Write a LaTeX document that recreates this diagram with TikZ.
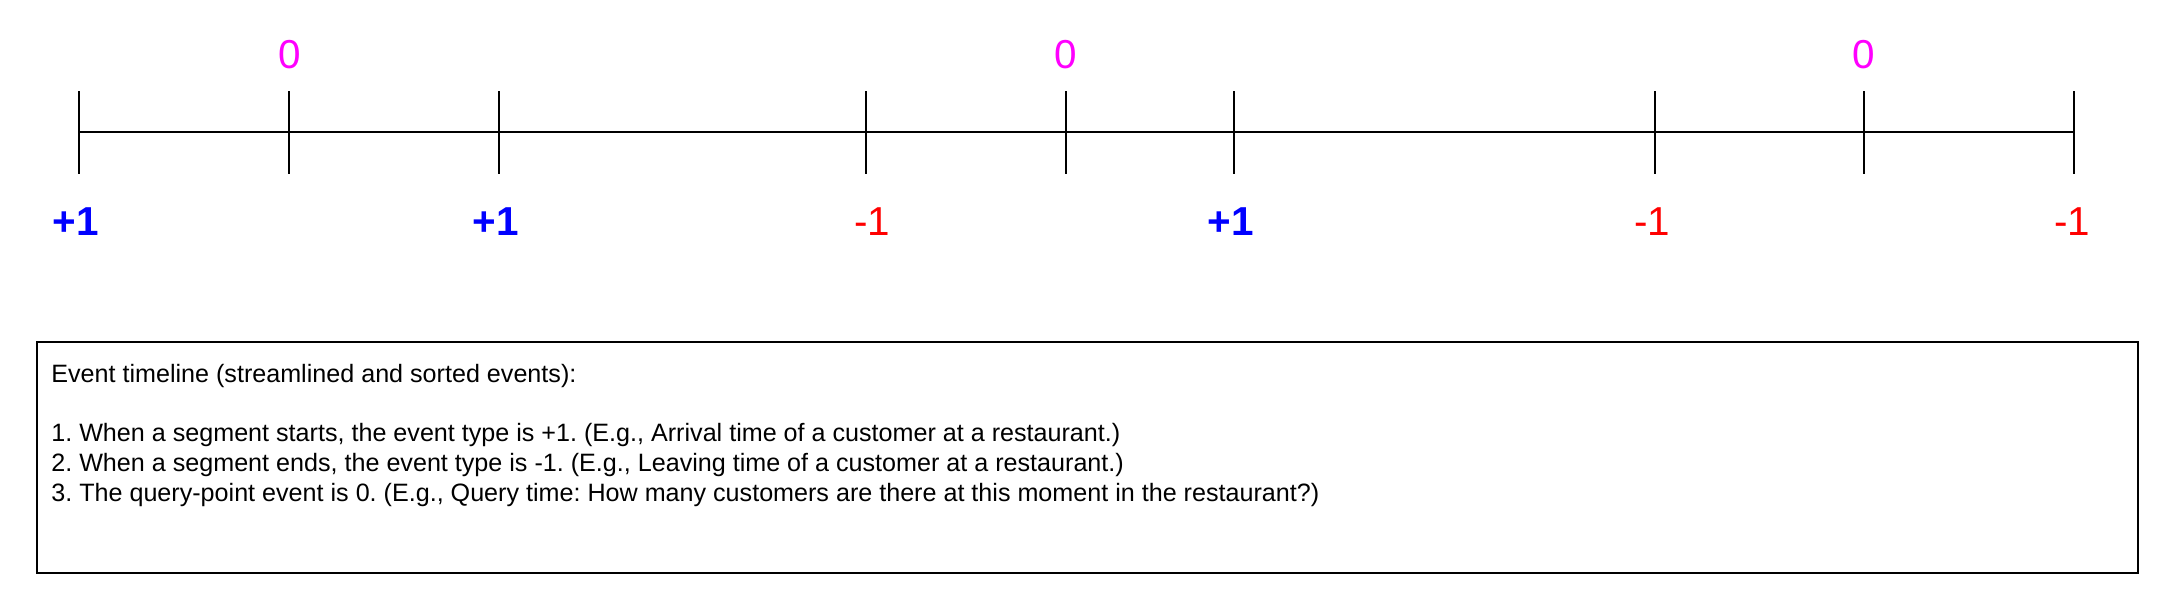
\documentclass[tikz,border=0pt]{standalone}
\usepackage{fontspec}
\setmainfont{Liberation Sans}
\usetikzlibrary{positioning}

\definecolor{startblue}{RGB}{0,0,255}
\definecolor{endred}{RGB}{255,0,0}
\definecolor{querypink}{RGB}{255,0,255}

\tikzset{
	axisline/.style={draw, line width=1.1pt},
	tickmark/.style={draw, line width=1pt},
	startlabel/.style={text=startblue, font=\fontsize{23}{23}\selectfont\bfseries},
	endlabel/.style={text=endred, font=\fontsize{23}{23}\selectfont},
	querylabel/.style={text=querypink, font=\fontsize{23}{23}\selectfont},
	notebox/.style={draw, line width=1.1pt, minimum width=42.02cm, minimum height=4.62cm, inner sep=0pt},
	notetext/.style={align=left, inner sep=0pt, font=\fontsize{14.3}{16.9}\selectfont\frenchspacing}
}

\begin{document}
\begin{tikzpicture}[x=0.02cm, y=-0.02cm]
	\useasboundingbox (0,0) rectangle (2170,612);
	% points on the timeline
	\coordinate (t1) at (79,132);
	\coordinate (t2) at (289,132);
	\coordinate (t3) at (499,132);
	\coordinate (t4) at (866,132);
	\coordinate (t5) at (1066,132);
	\coordinate (t6) at (1234,132);
	\coordinate (t7) at (1655,132);
	\coordinate (t8) at (1864,132);
	\coordinate (t9) at (2074,132);
	\draw[axisline] (t1) -- (t9);
	\foreach \t in {t1,t2,t3,t4,t5,t6,t7,t8,t9}
		\draw[tickmark] (\t) ++(0,-41) -- ++(0,83);
	% event types
	\node[startlabel] (s1) at (76,222) {+1};
	\node[querylabel] (q1) at (290,55) {0};
	\node[startlabel] (s2) at (496,222) {+1};
	\node[endlabel] (e1) at (872,222) {-1};
	\node[querylabel] (q2) at (1066,55) {0};
	\node[startlabel] (s3) at (1231,222) {+1};
	\node[endlabel] (e2) at (1652,222) {-1};
	\node[querylabel] (q3) at (1864,55) {0};
	\node[endlabel] (e3) at (2072,222) {-1};
	% notes
	\node[notebox] (legend) at (1087.5,457.5) {};
	\node[notetext, anchor=north west] (notes) at (51,364) {Event timeline (streamlined and sorted events):\\[16.9pt]
		1. When a segment starts, the event type is +1. (E.g., Arrival time of a customer at a restaurant.)\\
		2. When a segment ends, the event type is -1. (E.g., Leaving time of a customer at a restaurant.)\\
		3. The query-point event is 0. (E.g., Query time: How many customers are there at this moment in the restaurant?)};
\end{tikzpicture}
\end{document}
